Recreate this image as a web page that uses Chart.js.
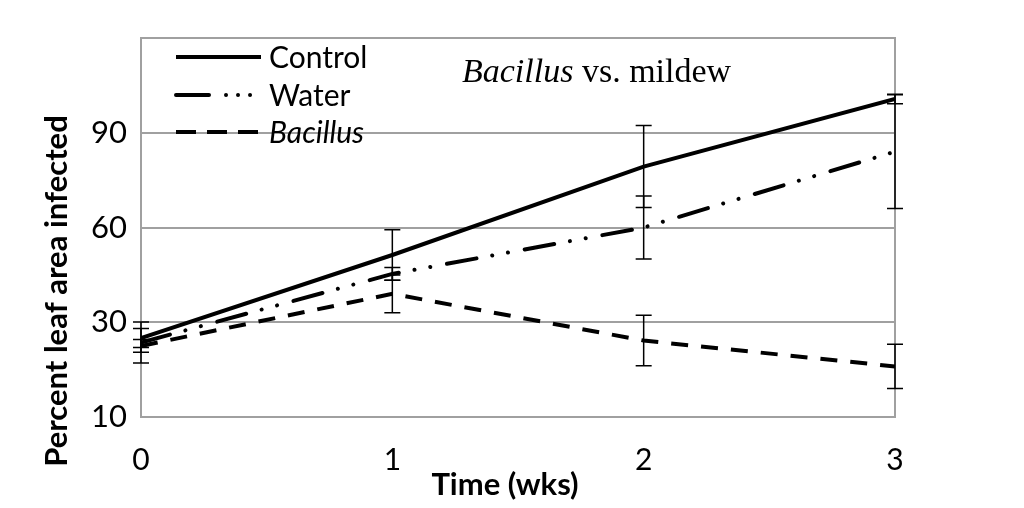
<!DOCTYPE html>
<html>
<head>
<meta charset="utf-8">
<script src="https://cdn.jsdelivr.net/npm/chart.js@4.4.1/dist/chart.umd.min.js"></script>
<style>
  body { margin: 0; background: #fff; }
  canvas { display: block; }
</style>
</head>
<body>
<canvas id="grafico" width="1024" height="508"></canvas>
<script>
// data
const weeks = [0, 1, 2, 3];
const controlVals = [25, 51.3, 79.3, 100.7];
const waterVals = [23.6, 45.3, 60, 84];
const bacillusVals = [22.5, 39, 24.2, 16];
const controlErr = [3, 8, 13, 1.5];
const waterErr = [6.5, 2, 10, 18];
const bacillusErr = [2, 6, 8, 7];
const seriesNames = ['Control', 'Water', 'Bacillus'];
const yTickValues = [0, 30, 60, 90, 120];
const yTickLabels = ['10', '30', '60', '90', ''];
const xTickLabels = ['0', '1', '2', '3'];

const sans = 'Lato, "Open Sans", sans-serif';
const serif = '"Liberation Serif", "DejaVu Serif", serif';

function pts(vals) {
  return weeks.map((w, i) => ({ x: w, y: vals[i] }));
}

const dashes = [[], [30, 16, 0.01, 16, 0.01, 17], [17, 13]];

// error bars, legend, titles and frame
const extras = {
  id: 'extras',
  beforeDatasetsDraw(chart) {
    const { ctx, chartArea: a } = chart;
    ctx.save();
    ctx.strokeStyle = '#a0a0a0';
    ctx.lineWidth = 2;
    ctx.strokeRect(a.left, a.top, a.right - a.left, a.bottom - a.top);
    ctx.restore();
  },
  afterDatasetsDraw(chart) {
    const { ctx } = chart;
    const xs = chart.scales.x, ys = chart.scales.y;
    const errs = [controlErr, waterErr, bacillusErr];
    chart.data.datasets.forEach((ds, i) => {
      ds.data.forEach((p, j) => {
        const x = xs.getPixelForValue(p.x);
        const y1 = ys.getPixelForValue(p.y + errs[i][j]);
        const y2 = ys.getPixelForValue(p.y - errs[i][j]);
        ctx.save();
        ctx.strokeStyle = '#000';
        ctx.lineWidth = 1.5;
        ctx.beginPath();
        ctx.moveTo(x, y1); ctx.lineTo(x, y2);
        ctx.moveTo(x - 8, y1); ctx.lineTo(x + 8, y1);
        ctx.moveTo(x - 8, y2); ctx.lineTo(x + 8, y2);
        ctx.stroke();
        ctx.restore();
      });
    });

    // legend
    const legendY = [57, 95, 132];
    const legendDash = [[], [33, 17, 0.01, 12, 0.01, 12, 0.01, 40], [20, 11]];
    ctx.save();
    ctx.fillStyle = '#000';
    ctx.textBaseline = 'middle';
    seriesNames.forEach((name, i) => {
      ctx.strokeStyle = '#000';
      ctx.lineWidth = 4;
      ctx.lineCap = i === 1 ? 'round' : 'butt';
      ctx.setLineDash(legendDash[i]);
      ctx.beginPath();
      ctx.moveTo(176, legendY[i]);
      ctx.lineTo(i === 1 ? 254 : 261, legendY[i]);
      ctx.stroke();
      ctx.font = (i === 2 ? 'italic ' : '') + '30px ' + sans;
      ctx.fillText(name, 269, legendY[i] + 1);
    });
    ctx.setLineDash([]);

    // title inside the plot
    ctx.font = 'italic 34px ' + serif;
    const w1 = ctx.measureText('Bacillus').width;
    ctx.fillText('Bacillus', 462, 73);
    ctx.font = '34px ' + serif;
    ctx.fillText(' vs. mildew', 462 + w1, 73);

    // x axis title
    ctx.textAlign = 'center';
    ctx.font = 'bold 31px ' + sans;
    ctx.fillText('Time (wks)', 505, 485);

    // y axis title
    ctx.translate(57, 291);
    ctx.rotate(-Math.PI / 2);
    ctx.fillText('Percent leaf area infected', 0, 0);
    ctx.restore();
  }
};

new Chart(document.getElementById('grafico'), {
  type: 'line',
  data: {
    datasets: seriesNames.map((name, i) => ({
      label: name,
      data: pts([controlVals, waterVals, bacillusVals][i]),
      borderColor: '#000',
      borderWidth: 4,
      borderDash: dashes[i],
      borderCapStyle: i === 1 ? 'round' : 'butt',
      pointRadius: 0,
      tension: 0,
      fill: false
    }))
  },
  options: {
    responsive: false,
    animation: false,
    layout: { padding: { top: 38, right: 129 } },
    plugins: {
      legend: { display: false },
      tooltip: { enabled: false }
    },
    scales: {
      x: {
        type: 'linear',
        min: 0,
        max: 3,
        afterBuildTicks: s => { s.ticks = weeks.map(v => ({ value: v })); },
        afterFit: s => { s.height = 91; },
        grid: { display: false, drawTicks: false },
        border: { display: false },
        ticks: {
          color: '#000',
          padding: 25,
          maxRotation: 0,
          font: { family: sans, size: 30 },
          callback: (v, i) => xTickLabels[i]
        }
      },
      y: {
        min: 0,
        max: 120,
        afterBuildTicks: s => { s.ticks = yTickValues.map(v => ({ value: v })); },
        afterFit: s => { s.width = 141; },
        grid: { color: '#a0a0a0', lineWidth: 2, drawTicks: false },
        border: { display: false },
        ticks: {
          color: '#000',
          padding: 14,
          font: { family: sans, size: 31 },
          callback: (v, i) => yTickLabels[i]
        }
      }
    }
  },
  plugins: [extras]
});
</script>
</body>
</html>
